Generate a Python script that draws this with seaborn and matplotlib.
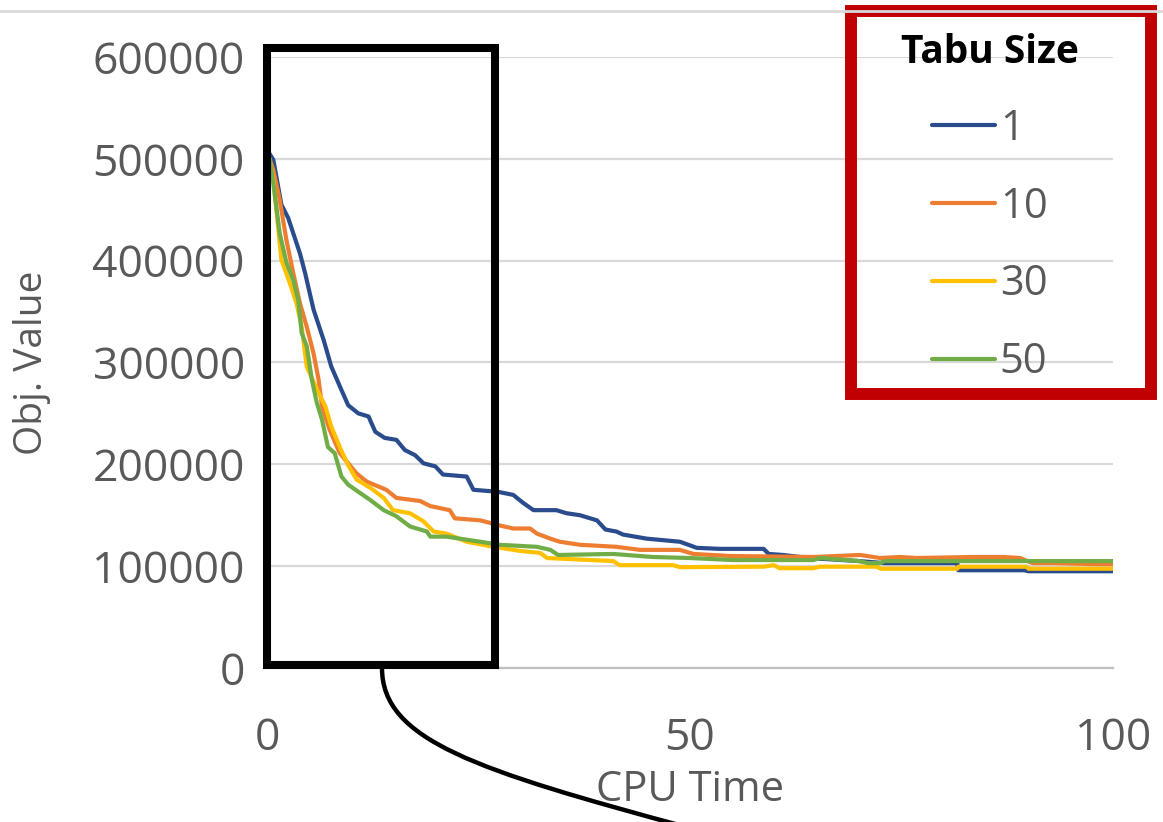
import numpy as np
import pandas as pd
import matplotlib
matplotlib.use("Agg")
import matplotlib.pyplot as plt
import seaborn as sns
from matplotlib.patches import Rectangle, PathPatch
from matplotlib.path import Path
from matplotlib.lines import Line2D

# values
t1 = [0.3, 0.75, 1.7, 2.5, 3.3, 3.9, 4.5, 5.5, 6.7, 7.6, 8.8, 9.6, 10.8, 12.0, 12.8, 13.9, 15.3, 16.3, 17.5,
      18.5, 19.9, 20.8, 23.6, 24.4, 27.3, 29.1, 30.3, 31.5, 34.2, 35.4, 37.0, 39.0, 40.0, 41.3, 42.1, 44.9,
      48.8, 50.8, 53.5, 58.7, 59.3, 61.0, 64, 70, 73, 81.6, 81.7, 89.5, 90, 100]
v1 = [505000, 499000, 455000, 442000, 422000, 407000, 388000, 352000, 322000, 296000, 273000, 258000, 250000,
      247000, 232000, 226000, 224000, 214000, 209000, 201000, 198000, 190000, 188000, 175000, 173000, 170000,
      162000, 155000, 155000, 152000, 150000, 145000, 136000, 134000, 131000, 127000, 124000, 118000, 117000,
      117000, 112000, 111000, 108000, 105000, 103000, 103000, 96000, 96000, 95000, 95000]

t10 = [0.3, 0.75, 1.5, 2.3, 3.1, 3.9, 4.7, 5.5, 6.1, 6.5, 7.4, 8.6, 9.8, 10.6, 11.8, 14.1, 15.3, 18.1, 19.3,
       21.6, 22.2, 25.2, 27.5, 29.1, 31.1, 31.9, 33.5, 34.6, 37.0, 41.3, 44.1, 48.8, 50.4, 54.7, 64.6, 70.1,
       72.5, 74.8, 76.8, 83.5, 87, 89, 90.5, 93, 98, 100]
v10 = [500000, 489000, 460000, 420000, 388000, 358000, 335000, 309000, 283000, 257000, 234000, 211000, 199000,
       191000, 183000, 175000, 167000, 164000, 159000, 155000, 147000, 145000, 140000, 137000, 137000, 132000,
       127000, 124000, 121000, 119000, 116000, 116000, 112000, 110000, 109000, 111000, 108000, 109000, 108000,
       109000, 109000, 108000, 103000, 103000, 102000, 102000]

t30 = [0.3, 0.75, 1.7, 2.7, 3.5, 4.1, 4.7, 6.1, 6.9, 7.6, 8.6, 9.6, 10.6, 12.2, 13.8, 14.9, 16.9, 18.5, 19.7,
       21.2, 23.6, 26.8, 29.9, 32.3, 33.1, 40.9, 41.7, 48.0, 48.8, 58.7, 59.9, 60.6, 64.6, 65.4, 72.1, 72.5,
       81.6, 81.7, 89.8, 90, 100]
v30 = [500000, 479000, 401000, 378000, 358000, 335000, 296000, 270000, 257000, 237000, 217000, 199000, 185000,
       177000, 167000, 155000, 152000, 144000, 134000, 132000, 124000, 119000, 115000, 113000, 108000, 105000,
       101000, 101000, 99000, 99500, 101000, 98000, 98000, 99500, 99500, 97500, 97500, 99500, 99500, 97500,
       97500]

t50 = [0.3, 0.75, 1.5, 2.3, 3.1, 3.7, 4.1, 4.7, 5.3, 5.9, 6.5, 7.2, 8.0, 8.8, 9.6, 10.8, 12.2, 13.8, 15.3,
       16.9, 18.9, 19.3, 21.2, 23.6, 25.2, 27.5, 31.9, 33.5, 34.4, 40.9, 45.6, 50.0, 55.1, 64.6, 65.4, 70, 71,
       72.5, 73, 100]
v50 = [500000, 476000, 427000, 398000, 381000, 361000, 329000, 316000, 283000, 260000, 244000, 217000, 211000,
       188000, 180000, 173000, 165000, 155000, 149000, 139000, 134000, 129000, 129000, 126000, 124000, 121000,
       119000, 116000, 111000, 112000, 109000, 108000, 106000, 106000, 108000, 105000, 103000, 103000, 105000,
       105000]

tabu_sizes = ["1", "10", "30", "50"]
colors = ["#2B4C8C", "#ED7D31", "#FFC000", "#70AD47"]
yticks = [0, 100000, 200000, 300000, 400000, 500000, 600000]
xticks = [0, 50, 100]

frames = []
for name, t, v in zip(tabu_sizes, [t1, t10, t30, t50], [v1, v10, v30, v50]):
    frames.append(pd.DataFrame({"CPU Time": t, "Obj. Value": v, "Tabu Size": name}))
df = pd.concat(frames, ignore_index=True)

sns.set_style("white")
plt.rcParams["font.family"] = ["Open Sans", "DejaVu Sans"]
gray = "#595959"

W, H = 1163, 822
fig = plt.figure(figsize=(W / 100, H / 100), dpi=100)
ax = fig.add_axes([267 / W, 1 - 668 / H, 846 / W, 611 / H])

sns.lineplot(data=df, x="CPU Time", y="Obj. Value", hue="Tabu Size", hue_order=tabu_sizes,
             palette=colors, estimator=None, sort=False, linewidth=3, legend=False, ax=ax)

ax.set_xlim(0, 100)
ax.set_ylim(0, 600000)
ax.set_xticks(xticks)
ax.set_yticks(yticks)
ax.set_xticklabels([str(x) for x in xticks])
ax.set_yticklabels([str(y) for y in yticks])
ax.tick_params(axis="y", length=0, pad=16, labelsize=32, labelcolor=gray)
ax.tick_params(axis="x", length=0, pad=35, labelsize=32, labelcolor=gray)
ax.yaxis.grid(True, color="#d9d9d9", linewidth=1.6)
ax.xaxis.grid(False)
ax.set_axisbelow(True)
for s in ["left", "right", "top"]:
    ax.spines[s].set_visible(False)
ax.spines["bottom"].set_color("#bfbfbf")
ax.spines["bottom"].set_linewidth(1.6)

ax.set_xlabel("CPU Time", fontsize=30, color=gray)
ax.set_ylabel("Obj. Value", fontsize=28, color=gray)
ax.xaxis.set_label_coords(0.5, -0.165)
ax.yaxis.set_label_coords(-0.255, 0.5)

# zoom box on the early part
ax.add_patch(Rectangle((0, 3000), 26.95, 606000, fill=False, edgecolor="black",
                       linewidth=5.8, clip_on=False, zorder=5))

# legend
handles = [Line2D([], [], color=c, linewidth=3) for c in colors]
leg = fig.legend(handles, tabu_sizes, title="Tabu Size", loc="upper center",
                 bbox_to_anchor=(990 / W, 1 - 12 / H), frameon=False, fontsize=30,
                 handlelength=1.5, handletextpad=0.12, labelspacing=0.86, borderpad=0)
leg.get_title().set_fontsize(28)
leg.get_title().set_fontweight("bold")
leg.get_title().set_color("black")
for txt in leg.get_texts():
    txt.set_color(gray)

# red frame around legend
fig.add_artist(Rectangle((851 / W, 1 - 394 / H), 300 / W, 383 / H, fill=False,
                         edgecolor="#C00000", linewidth=8.6, transform=fig.transFigure))

# top border line
fig.add_artist(Line2D([0, 1], [1 - 11 / H, 1 - 11 / H], color="#d9d9d9", linewidth=2,
                      transform=fig.transFigure))

# connector curve out of the zoom box
pts = [(382, 668), (382, 740), (475, 770), (690, 828)]
verts = [(x / W, 1 - y / H) for x, y in pts]
path = Path(verts, [Path.MOVETO, Path.CURVE4, Path.CURVE4, Path.CURVE4])
fig.add_artist(PathPatch(path, fill=False, edgecolor="black", linewidth=3.2,
                         transform=fig.transFigure))

fig.savefig("out.png", dpi=100)
